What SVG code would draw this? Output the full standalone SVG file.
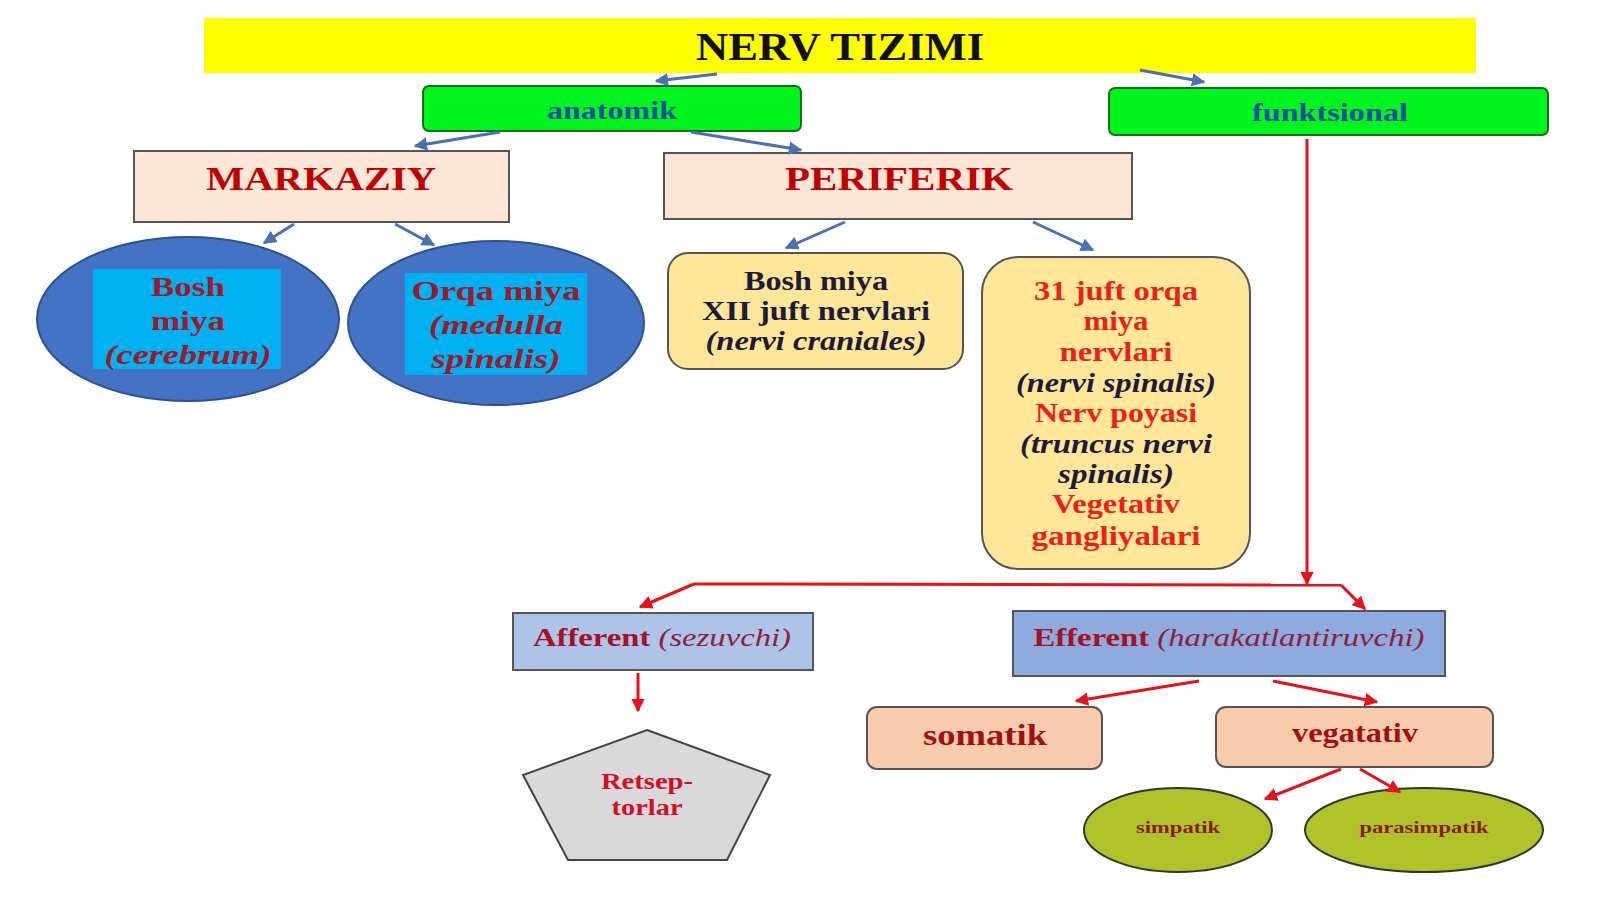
<svg xmlns="http://www.w3.org/2000/svg" width="1600" height="899" viewBox="0 0 1600 899">
<defs>
<marker id="ab" viewBox="0 0 10 10" refX="9" refY="5" markerWidth="4.5" markerHeight="4.5" orient="auto" markerUnits="strokeWidth"><path d="M0,0 L10,5 L0,10 z" fill="#4A6FB5"/></marker>
<marker id="ar" viewBox="0 0 10 10" refX="9" refY="5" markerWidth="4.5" markerHeight="4.5" orient="auto" markerUnits="strokeWidth"><path d="M0,0 L10,5 L0,10 z" fill="#E8101A"/></marker>
</defs>
<style>
text{font-family:"Liberation Serif","Times New Roman",serif;font-weight:bold;text-anchor:middle}
.it{font-style:italic}
.bl{stroke:#4A6FB5;stroke-width:3;fill:none;marker-end:url(#ab)}
.rd{stroke:#E8101A;stroke-width:3;fill:none}
.rda{stroke:#E8101A;stroke-width:3;fill:none;marker-end:url(#ar)}
.box{stroke:#555;stroke-width:2}
</style>
<rect width="1600" height="899" fill="#FFFFFF"/>

<g id="title">
<rect x="204" y="18" width="1272" height="55" fill="#FFFF00"/>
<text x="840" y="60" font-size="40" fill="#111" textLength="288" lengthAdjust="spacingAndGlyphs">NERV TIZIMI</text>
</g>

<g id="anatomik">
<rect x="423" y="86" width="378" height="45" rx="6" fill="#00F51E" stroke="#1D6B1D" stroke-width="2"/>
<text x="612" y="119" font-size="26" fill="#1F4E9F" textLength="130" lengthAdjust="spacingAndGlyphs">anatomik</text>
</g>

<g id="funktsional">
<rect x="1109" y="88" width="439" height="47" rx="6" fill="#00F51E" stroke="#1D6B1D" stroke-width="2"/>
<text x="1330" y="121" font-size="26" fill="#1F4E9F" textLength="156" lengthAdjust="spacingAndGlyphs">funktsional</text>
</g>

<g id="markaziy">
<rect x="134" y="151" width="375" height="71" fill="#FBE5D6" class="box"/>
<text x="321" y="190" font-size="33" fill="#C00000" textLength="230" lengthAdjust="spacingAndGlyphs">MARKAZIY</text>
</g>

<g id="periferik">
<rect x="664" y="153" width="468" height="66" fill="#FBE5D6" class="box"/>
<text x="899" y="190" font-size="33" fill="#C00000" textLength="228" lengthAdjust="spacingAndGlyphs">PERIFERIK</text>
</g>

<g id="bosh-miya">
<ellipse cx="188" cy="319" rx="151" ry="82" fill="#4472C4" stroke="#2F528F" stroke-width="2"/>
<rect x="93" y="269" width="188" height="100" fill="#00B0F0"/>
<text x="188" y="296" font-size="28" fill="#A0192B" textLength="74" lengthAdjust="spacingAndGlyphs">Bosh</text>
<text x="188" y="330" font-size="28" fill="#A0192B" textLength="74" lengthAdjust="spacingAndGlyphs">miya</text>
<text x="188" y="364" font-size="28" fill="#A0192B" class="it" textLength="167" lengthAdjust="spacingAndGlyphs">(cerebrum)</text>
</g>

<g id="orqa-miya">
<ellipse cx="496" cy="323" rx="148" ry="82" fill="#4472C4" stroke="#2F528F" stroke-width="2"/>
<rect x="405" y="273" width="182" height="102" fill="#00B0F0"/>
<text x="496" y="300" font-size="28" fill="#A0192B" textLength="169" lengthAdjust="spacingAndGlyphs">Orqa miya</text>
<text x="496" y="334" font-size="28" fill="#A0192B" class="it" textLength="134" lengthAdjust="spacingAndGlyphs">(medulla</text>
<text x="496" y="368" font-size="28" fill="#A0192B" class="it" textLength="129" lengthAdjust="spacingAndGlyphs">spinalis)</text>
</g>

<g id="bosh-miya-nervlari">
<rect x="668" y="253" width="295" height="116" rx="20" fill="#FFE699" class="box"/>
<text x="816" y="290" font-size="27" fill="#1C1C3A" textLength="144" lengthAdjust="spacingAndGlyphs">Bosh miya</text>
<text x="816" y="320" font-size="27" fill="#1C1C3A" textLength="228" lengthAdjust="spacingAndGlyphs">XII juft nervlari</text>
<text x="816" y="350" font-size="27" fill="#1C1C3A" class="it" textLength="221" lengthAdjust="spacingAndGlyphs">(nervi craniales)</text>
</g>

<g id="orqa-miya-nervlari">
<rect x="982" y="257" width="268" height="312" rx="36" fill="#FFE699" class="box"/>
<text x="1116" y="300" font-size="28" fill="#E8221B" textLength="164" lengthAdjust="spacingAndGlyphs">31 juft orqa</text>
<text x="1116" y="330" font-size="28" fill="#E8221B" textLength="65" lengthAdjust="spacingAndGlyphs">miya</text>
<text x="1116" y="361" font-size="28" fill="#E8221B" textLength="113" lengthAdjust="spacingAndGlyphs">nervlari</text>
<text x="1116" y="392" font-size="27" fill="#1C1C3A" class="it" textLength="200" lengthAdjust="spacingAndGlyphs">(nervi spinalis)</text>
<text x="1116" y="422" font-size="28" fill="#E8221B" textLength="162" lengthAdjust="spacingAndGlyphs">Nerv poyasi</text>
<text x="1116" y="453" font-size="27" fill="#1C1C3A" class="it" textLength="192" lengthAdjust="spacingAndGlyphs">(truncus nervi</text>
<text x="1116" y="483" font-size="27" fill="#1C1C3A" class="it" textLength="116" lengthAdjust="spacingAndGlyphs">spinalis)</text>
<text x="1116" y="513" font-size="28" fill="#E8221B" textLength="128" lengthAdjust="spacingAndGlyphs">Vegetativ</text>
<text x="1116" y="545" font-size="28" fill="#E8221B" textLength="169" lengthAdjust="spacingAndGlyphs">gangliyalari</text>
</g>

<g id="afferent">
<rect x="513" y="613" width="300" height="57" fill="#AEC3E8" class="box"/>
<text x="662" y="646" font-size="26" fill="#A3122B" textLength="258" lengthAdjust="spacingAndGlyphs">Afferent <tspan class="it" font-weight="normal" fill="#8B2040">(sezuvchi)</tspan></text>
</g>

<g id="efferent">
<rect x="1013" y="611" width="432" height="65" fill="#8FAADC" class="box"/>
<text x="1229" y="646" font-size="26" fill="#A3122B" textLength="391" lengthAdjust="spacingAndGlyphs">Efferent <tspan class="it" font-weight="normal" fill="#8B2040">(harakatlantiruvchi)</tspan></text>
</g>

<g id="somatik">
<rect x="867" y="707" width="235" height="62" rx="10" fill="#F8CBAD" class="box"/>
<text x="985" y="745" font-size="29" fill="#A01010" textLength="124" lengthAdjust="spacingAndGlyphs">somatik</text>
</g>

<g id="vegatativ">
<rect x="1216" y="707" width="277" height="60" rx="10" fill="#F8CBAD" class="box"/>
<text x="1355" y="742" font-size="27" fill="#A01010" textLength="126" lengthAdjust="spacingAndGlyphs">vegatativ</text>
</g>

<g id="retseptorlar">
<polygon points="647,730 770,775 727,860 568,860 523,775" fill="#D9D9D9" stroke="#444" stroke-width="2"/>
<text x="647" y="789" font-size="23" fill="#D0102A" textLength="92" lengthAdjust="spacingAndGlyphs">Retsep-</text>
<text x="647" y="815" font-size="23" fill="#D0102A" textLength="71" lengthAdjust="spacingAndGlyphs">torlar</text>
</g>

<g id="simpatik">
<ellipse cx="1178" cy="830" rx="94" ry="42" fill="#AFC22A" stroke="#333" stroke-width="2"/>
<text x="1178" y="833" font-size="17" fill="#8B1A1A" textLength="84" lengthAdjust="spacingAndGlyphs">simpatik</text>
</g>

<g id="parasimpatik">
<ellipse cx="1424" cy="830" rx="119" ry="42" fill="#AFC22A" stroke="#333" stroke-width="2"/>
<text x="1424" y="833" font-size="17" fill="#8B1A1A" textLength="129" lengthAdjust="spacingAndGlyphs">parasimpatik</text>
</g>

<g id="connectors">
<line class="bl" x1="717" y1="74" x2="656" y2="81"/>
<line class="bl" x1="1140" y1="70" x2="1204" y2="82"/>
<line class="bl" x1="500" y1="132" x2="415" y2="146"/>
<line class="bl" x1="691" y1="132" x2="801" y2="150"/>
<line class="bl" x1="294" y1="224" x2="264" y2="243"/>
<line class="bl" x1="395" y1="224" x2="434" y2="245"/>
<line class="bl" x1="845" y1="222" x2="786" y2="248"/>
<line class="bl" x1="1033" y1="222" x2="1093" y2="250"/>
<line class="rda" x1="1307" y1="139" x2="1307" y2="584"/>
<polyline class="rd" points="694,584 1341,585"/>
<line class="rda" x1="694" y1="584" x2="640" y2="607"/>
<line class="rda" x1="1341" y1="585" x2="1365" y2="609"/>
<line class="rda" x1="638" y1="673" x2="638" y2="711"/>
<line class="rda" x1="1199" y1="681" x2="1076" y2="701"/>
<line class="rda" x1="1273" y1="681" x2="1377" y2="702"/>
<line class="rda" x1="1341" y1="769" x2="1265" y2="799"/>
<line class="rda" x1="1360" y1="769" x2="1400" y2="792"/>
</g>
</svg>
